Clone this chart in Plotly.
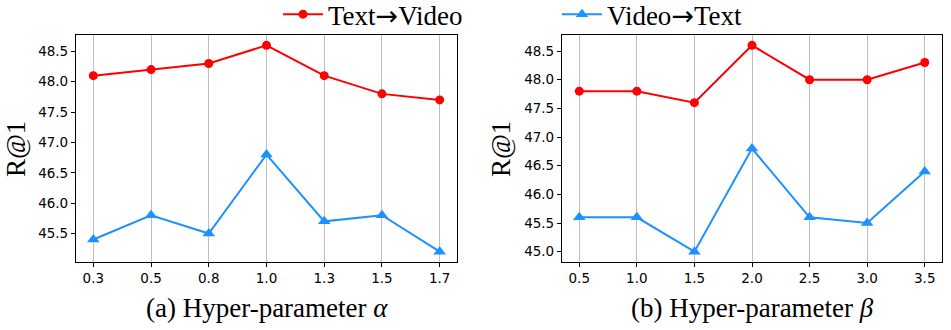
import plotly.graph_objects as go
from plotly.subplots import make_subplots

# datos
alpha_vals = ["0.3", "0.5", "0.8", "1.0", "1.3", "1.5", "1.7"]
beta_vals = ["0.5", "1.0", "1.5", "2.0", "2.5", "3.0", "3.5"]

t2v_alpha = [48.1, 48.2, 48.3, 48.6, 48.1, 47.8, 47.7]
v2t_alpha = [45.4, 45.8, 45.5, 46.8, 45.7, 45.8, 45.2]

t2v_beta = [47.8, 47.8, 47.6, 48.6, 48.0, 48.0, 48.3]
v2t_beta = [45.6, 45.6, 45.0, 46.8, 45.6, 45.5, 46.4]

RED = "#ff0000"
BLUE = "#1e90ff"
SERIF = "Liberation Serif"
SANS = "DejaVu Sans"
ARROW = '<span style="font-family:DejaVu Sans">→</span>'

W, H = 951, 330

fig = make_subplots(rows=1, cols=2)

# panel (a)
fig.add_trace(go.Scatter(x=alpha_vals, y=t2v_alpha, mode="lines+markers", name="Text" + ARROW + "Video",
                         line=dict(color=RED, width=2), marker=dict(symbol="circle", size=9, color=RED)),
              row=1, col=1)
fig.add_trace(go.Scatter(x=alpha_vals, y=v2t_alpha, mode="lines+markers", name="Video" + ARROW + "Text",
                         line=dict(color=BLUE, width=2), marker=dict(symbol="triangle-up", size=11, color=BLUE)),
              row=1, col=1)
# panel (b)
fig.add_trace(go.Scatter(x=beta_vals, y=t2v_beta, mode="lines+markers", showlegend=False,
                         line=dict(color=RED, width=2), marker=dict(symbol="circle", size=9, color=RED)),
              row=1, col=2)
fig.add_trace(go.Scatter(x=beta_vals, y=v2t_beta, mode="lines+markers", showlegend=False,
                         line=dict(color=BLUE, width=2), marker=dict(symbol="triangle-up", size=11, color=BLUE)),
              row=1, col=2)

# marco negro completo, ticks sólo abajo/izquierda
axis_common = dict(showline=True, mirror=True, linecolor="#000000", linewidth=1.2,
                   ticks="outside", ticklen=4, tickwidth=1.2, tickcolor="#000000",
                   tickfont=dict(family=SANS, size=13.5, color="black"), zeroline=False)

fig.update_xaxes(type="category", range=[-0.3, 6.3], showgrid=True, gridcolor="#bfbfbf", gridwidth=1,
                 **axis_common)
fig.update_yaxes(showgrid=False, dtick=0.5, tickformat=".1f", **axis_common)

fig.update_layout(
    template="none",
    width=W, height=H,
    margin=dict(l=0, r=0, t=0, b=0, autoexpand=False),
    plot_bgcolor="white", paper_bgcolor="white",
    xaxis=dict(domain=[76 / W, 457 / W]),
    xaxis2=dict(domain=[562 / W, 942 / W]),
    yaxis=dict(domain=[1 - 262 / H, 1 - 35 / H], range=[45.03, 48.77]),
    yaxis2=dict(domain=[1 - 262 / H, 1 - 35 / H], range=[44.82, 48.78]),
    showlegend=True,
    legend=dict(orientation="h", x=278 / W, xanchor="left", y=1.03, yanchor="top",
                font=dict(family=SERIF, size=27, color="black"),
                entrywidth=224, bgcolor="rgba(0,0,0,0)", itemwidth=40),
)

# títulos de ejes
annots = [
    dict(x=(76 + 457) / 2 / W, y=1 - 308 / H, text="(a) Hyper-parameter <i>α</i>"),
    dict(x=(562 + 942) / 2 / W, y=1 - 308 / H, text="(b) Hyper-parameter <i>β</i>"),
]
for a in annots:
    fig.add_annotation(xref="paper", yref="paper", x=a["x"], y=a["y"], text=a["text"], showarrow=False,
                       xanchor="center", yanchor="middle", font=dict(family=SERIF, size=27, color="black"))
for xc in [16, 501]:
    fig.add_annotation(xref="paper", yref="paper", x=xc / W, y=1 - 149 / H, text="R@1", showarrow=False,
                       textangle=-90, xanchor="center", yanchor="middle",
                       font=dict(family=SERIF, size=27, color="black"))

# quitar margen del body para que la figura quede en (0,0)
fig.write_html("out.html", config={"displayModeBar": False},
               post_script="document.body.style.margin='0';")
